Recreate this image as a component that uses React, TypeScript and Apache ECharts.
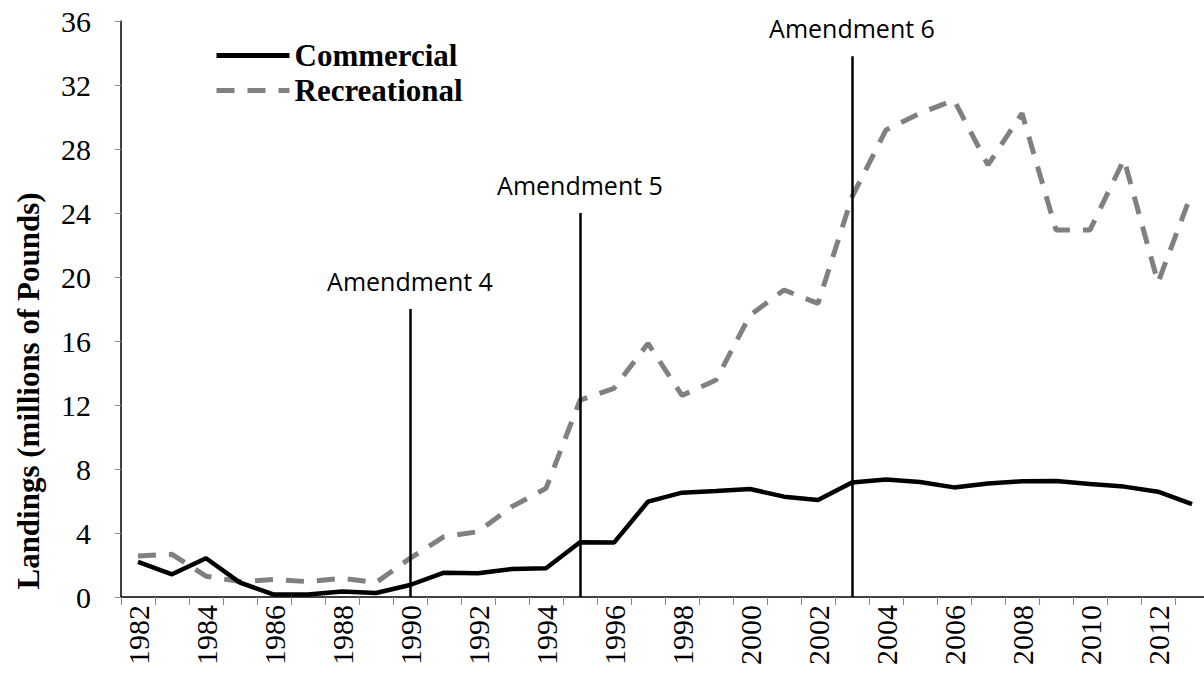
import React, { useEffect, useRef } from "react";
import * as echarts from "echarts";

const years = [
  "1982","1983","1984","1985","1986","1987","1988","1989","1990","1991",
  "1992","1993","1994","1995","1996","1997","1998","1999","2000","2001",
  "2002","2003","2004","2005","2006","2007","2008","2009","2010","2011",
  "2012","2013",
];
const commercial = [
  2.2, 1.42, 2.42, 0.9, 0.15, 0.15, 0.35, 0.25, 0.75, 1.52,
  1.48, 1.75, 1.8, 3.42, 3.4, 5.96, 6.52, 6.62, 6.75, 6.27,
  6.06, 7.15, 7.35, 7.19, 6.85, 7.1, 7.23, 7.25, 7.06, 6.9,
  6.58, 5.81,
];
const recreational = [
  2.56, 2.67, 1.3, 0.96, 1.1, 0.96, 1.17, 0.9, 2.42, 3.77,
  4.08, 5.65, 6.79, 12.3, 13.04, 15.85, 12.6, 13.56, 17.6, 19.19,
  18.35, 25.0, 29.19, 30.23, 31.06, 27.0, 30.23, 22.94, 22.94, 27.35,
  19.65, 25.3,
];
const amendments = [
  { name: "Amendment 4", year: "1990", top: 18 },
  { name: "Amendment 5", year: "1995", top: 24 },
  { name: "Amendment 6", year: "2003", top: 33.8 },
];
const yTicks = { min: 0, max: 36, interval: 4 };

export default function App() {
  const ref = useRef<HTMLDivElement>(null);
  useEffect(() => {
    if (!ref.current) return;
    const chart = echarts.init(ref.current, undefined, { renderer: "svg" });
    const serif = "Liberation Serif";
    chart.setOption({
      animation: false,
      backgroundColor: "#ffffff",
      grid: { left: 121, top: 21, bottom: 86, right: 21, containLabel: false },
      legend: {
        orient: "vertical",
        left: 209,
        top: 35,
        itemWidth: 73,
        itemHeight: 20,
        itemGap: 4,
        itemStyle: { opacity: 0 },
        lineStyle: { width: 5 },
        textStyle: { fontFamily: serif, fontWeight: "bold", fontSize: 31, color: "#000" },
        data: ["Commercial", "Recreational"],
      },
      xAxis: {
        type: "category",
        data: years,
        boundaryGap: true,
        axisLine: { lineStyle: { color: "#000", width: 1.5 } },
        axisTick: { show: true, length: 8, alignWithLabel: false, interval: 0, lineStyle: { color: "#888" } },
        axisLabel: {
          interval: 1,
          rotate: 90,
          margin: 8,
          fontFamily: serif,
          fontSize: 30,
          color: "#000",
        },
        splitLine: { show: false },
      },
      yAxis: {
        type: "value",
        min: yTicks.min,
        max: yTicks.max,
        interval: yTicks.interval,
        axisLine: { show: true, lineStyle: { color: "#000", width: 1.5 } },
        axisTick: { show: true, length: 6, lineStyle: { color: "#888" } },
        axisLabel: { fontFamily: serif, fontSize: 30, color: "#000", margin: 30 },
        splitLine: { show: false },
      },
      graphic: [
        {
          type: "text",
          x: 28,
          y: 391,
          rotation: Math.PI / 2,
          style: {
            text: "Landings (millions of Pounds)",
            fontFamily: serif,
            fontWeight: "bold",
            fontSize: 31,
            fill: "#000",
            textAlign: "center",
            textVerticalAlign: "middle",
          },
        },
      ],
      series: [
        {
          name: "Recreational",
          type: "line",
          data: recreational,
          symbol: "none",
          lineStyle: { color: "#808080", width: 5, type: [18, 13] },
          itemStyle: { color: "#808080" },
          z: 2,
        },
        {
          name: "Commercial",
          type: "line",
          data: commercial,
          symbol: "none",
          lineStyle: { color: "#000", width: 4.5, type: "solid" },
          itemStyle: { color: "#000" },
          z: 3,
          markLine: {
            silent: true,
            symbol: ["none", "none"],
            lineStyle: { color: "#000", width: 2.5, type: "solid" },
            label: {
              show: true,
              position: "end",
              distance: 16,
              formatter: (p: any) => p.name,
              fontFamily: "Open Sans",
              fontSize: 25,
              color: "#000",
            },
            data: amendments.map((a) => [
              { name: a.name, xAxis: a.year, yAxis: 0 },
              { xAxis: a.year, yAxis: a.top },
            ]),
          },
        },
      ],
    });
    return () => chart.dispose();
  }, []);
  return (
    <div style={{ position: "fixed", left: 0, top: 0, width: 1204, height: 683, overflow: "hidden", background: "#fff" }}>
      <div ref={ref} style={{ width: 1230, height: 683 }} />
    </div>
  );
}
